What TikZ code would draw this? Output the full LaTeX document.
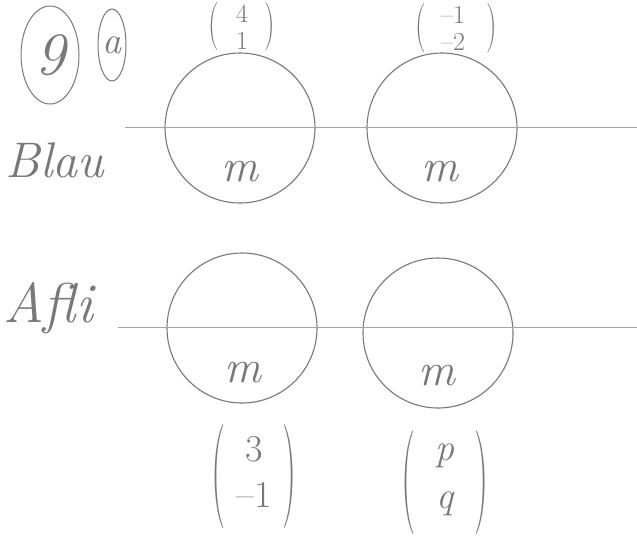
\documentclass[tikz,border=0pt]{standalone}
\usetikzlibrary{shapes.geometric}
\definecolor{pencil}{RGB}{120,120,120}
\definecolor{lightpencil}{RGB}{165,165,165}
\tikzset{
  ring/.style={circle, draw=pencil, line width=1.1pt, minimum size=150pt, inner sep=0pt},
  axis/.style={draw=lightpencil, line width=1pt},
  hand/.style={text=pencil, font=\fontsize{46}{50}\selectfont\itshape, inner sep=0pt},
  vecbox/.style={text=pencil, inner sep=0pt, align=center},
  paren/.style={text=pencil, inner sep=0pt},
  loop/.style={ellipse, draw=pencil, line width=1pt, inner sep=0pt}
}
\begin{document}
\begin{tikzpicture}[x=1pt,y=-1pt]
\clip (0,0) rectangle (637,539);
\fill[white] (0,0) rectangle (637,539);
% circled labels
\node[loop, minimum width=58pt, minimum height=98pt, text=pencil, font=\fontsize{60}{64}\selectfont\itshape] (nine) at (50,55) {9};
\node[loop, minimum width=28pt, minimum height=72pt, text=pencil, font=\fontsize{38}{42}\selectfont\itshape] (a) at (112,45) {a};
% row labels
\node[hand, font=\fontsize{50}{54}\selectfont\itshape] (blau) at (55,160) {Blau};
\node[hand, font=\fontsize{56}{60}\selectfont\itshape] (afli) at (48,308) {Afli};
% circles
\node[ring] (c1) at (240,128) {};
\node[ring] (c2) at (442,128) {};
\node[ring] (c3) at (242,328) {};
\node[ring] (c4) at (438,333) {};
% horizontal lines
\coordinate (l1s) at (125,127);
\coordinate (l1e) at (637,127);
\coordinate (l2s) at (118,327);
\coordinate (l2e) at (637,327);
\draw[axis] (l1s) -- (l1e);
\draw[axis] (l2s) -- (l2e);
% m labels
\node[hand] (m1) at (240,172) {m};
\node[hand] (m2) at (440,172) {m};
\node[hand] (m3) at (243,373) {m};
\node[hand] (m4) at (437,376) {m};
% vector entries
\node[vecbox, font=\fontsize{26}{27}\selectfont] (v1) at (242,27) {4\\1};
\node[vecbox, font=\fontsize{26}{27}\selectfont] (v2) at (453,28) {--1\\--2};
\node[vecbox, font=\fontsize{38}{46}\selectfont] (v3) at (254,472) {3\\--1};
\node[vecbox, font=\fontsize{38}{48}\selectfont\itshape] (v4) at (445,480) {p\\q};
% parentheses
\node[paren, font=\fontsize{30}{30}\selectfont] (v1l) at (214,27) {\scalebox{1}[1.6]{(}};
\node[paren, font=\fontsize{30}{30}\selectfont] (v1r) at (270,27) {\scalebox{1}[1.6]{)}};
\node[paren, font=\fontsize{30}{30}\selectfont] (v2l) at (421,28) {\scalebox{1}[1.65]{(}};
\node[paren, font=\fontsize{30}{30}\selectfont] (v2r) at (492,28) {\scalebox{1}[1.65]{)}};
\node[paren, font=\fontsize{40}{40}\selectfont] (v3l) at (219,477) {\scalebox{1}[2.6]{(}};
\node[paren, font=\fontsize{40}{40}\selectfont] (v3r) at (290,477) {\scalebox{1}[2.6]{)}};
\node[paren, font=\fontsize{40}{40}\selectfont] (v4l) at (409,483) {\scalebox{1}[2.6]{(}};
\node[paren, font=\fontsize{40}{40}\selectfont] (v4r) at (482,483) {\scalebox{1}[2.6]{)}};
\end{tikzpicture}
\end{document}
